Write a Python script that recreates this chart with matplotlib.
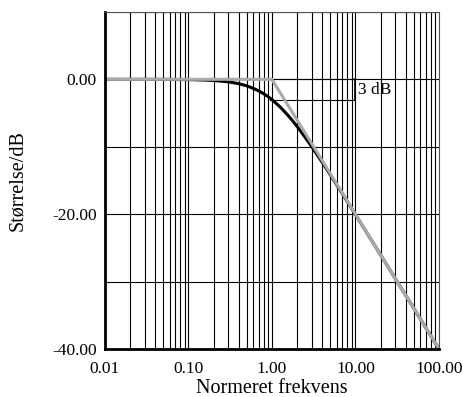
import matplotlib
matplotlib.use("Agg")
import matplotlib.pyplot as plt
from matplotlib.ticker import FixedLocator, NullFormatter

plt.rcParams['font.family'] = ['Liberation Serif', 'DejaVu Serif']

# normeret frekvens og stoerrelse (dB), aflaest fra figuren
freq = [0.01, 0.05, 0.1, 0.15, 0.2, 0.3, 0.4, 0.5, 0.6, 0.7, 0.8, 0.9, 1.0,
        1.25, 1.5, 1.75, 2.0, 2.5, 3.0, 4.0, 5.0, 7.0, 10.0, 20.0, 50.0, 100.0]
mag = [0.0, -0.01, -0.04, -0.10, -0.17, -0.37, -0.64, -0.97, -1.34, -1.74, -2.15, -2.57, -3.01,
       -4.08, -5.12, -6.08, -6.99, -8.60, -10.0, -12.30, -14.15, -16.99, -20.04, -26.03, -33.98, -40.0]

# asymptote
asym_freq = [0.01, 1.0, 100.0]
asym_mag = [0.0, 0.0, -40.0]

x_ticks = [0.01, 0.1, 1, 10, 100]
x_labels = ['0.01', '0.10', '1.00', '10.00', '100.00']
y_ticks = [-40, -20, 0]
y_labels = ['-40.00', '-20.00', '0.00']

fig = plt.figure(figsize=(4.64, 3.97), dpi=100)
ax = fig.add_axes([0.226, 0.121, 0.72, 0.849])

ax.set_xscale('log')
ax.set_xlim(0.01, 100)
ax.set_ylim(-40, 10)

# grid
minor_x = [m * 10.0 ** e for e in range(-2, 2) for m in range(2, 10)]
ax.xaxis.set_minor_locator(FixedLocator(minor_x))
ax.xaxis.set_minor_formatter(NullFormatter())
ax.set_xticks(x_ticks)
ax.set_xticklabels(x_labels)
ax.set_yticks(y_ticks)
ax.set_yticklabels(y_labels)
ax.yaxis.set_minor_locator(FixedLocator([-30, -10, 10]))
ax.grid(True, which='both', color='black', lw=0.8)
ax.tick_params(which='both', length=0, labelsize=12.5)
ax.tick_params(axis='x', pad=9)
ax.tick_params(axis='y', pad=6)

# 3 dB markering
ax.plot([1.0, 10.0], [0, 0], color='black', lw=0.8)
ax.plot([0.95, 10.0], [-3, -3], color='black', lw=0.8)
ax.plot([10.0, 10.0], [0, -3], color='black', lw=1.2)
ax.text(10.8, -1.6, '3 dB', fontsize=12.5, va='center', ha='left')

ax.plot(freq, mag, color='black', lw=2.2, solid_capstyle='butt')
ax.plot(asym_freq, asym_mag, color='#aaaaaa', lw=2.2)

for side in ['left', 'bottom']:
    ax.spines[side].set_linewidth(2)
for side in ['top', 'right']:
    ax.spines[side].set_linewidth(0.8)
    ax.spines[side].set_color('#555555')

ax.set_xlabel('Normeret frekvens', fontsize=14.5, labelpad=1)
ax.set_ylabel('Størrelse/dB', fontsize=14.5, labelpad=18)

fig.savefig('out.png', dpi=100)
